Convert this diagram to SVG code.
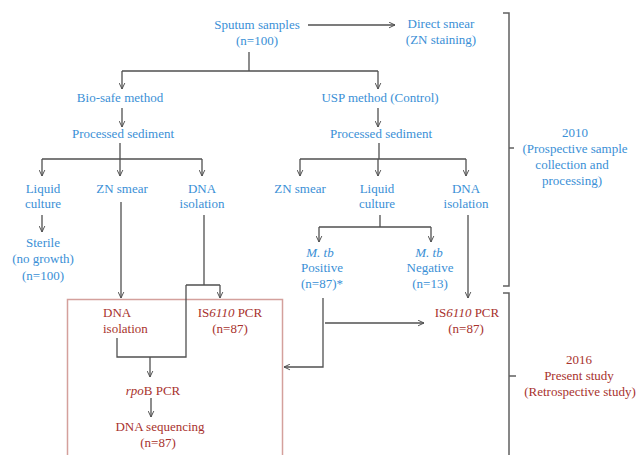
<svg xmlns="http://www.w3.org/2000/svg" width="636" height="455" viewBox="0 0 636 455">
<style>
text{font-family:'Liberation Serif','DejaVu Serif',serif;font-size:13px;text-anchor:middle}
.b{fill:#3a8fd6}
.r{fill:#a8322d}
.l{text-anchor:start}
.i{font-style:italic}
.c{fill:none;stroke:#505050;stroke-width:1.3}
.a{marker-end:url(#arr)}
.br{fill:none;stroke:#606060;stroke-width:1.5}
</style>
<defs>
<marker id="arr" viewBox="0 0 10 10" refX="9.5" refY="5" markerWidth="7" markerHeight="7" markerUnits="userSpaceOnUse" orient="auto">
<path d="M1,1 L9.5,5 L1,9" fill="none" stroke="#505050" stroke-width="1.4"/>
</marker>
</defs>
<rect x="67.5" y="299.5" width="215" height="200" fill="none" stroke="#d4a09c" stroke-width="1.5"/>
<g id="connectors">
<path class="c a" d="M308,25 H395"/>
<path class="c" d="M249,52 V71 M122,71 H378"/>
<path class="c a" d="M122,71 V89"/>
<path class="c a" d="M378,71 V89"/>
<path class="c a" d="M122,108 V127"/>
<path class="c a" d="M378,108 V127"/>
<path class="c" d="M120,143 V159 M42,159 H202"/>
<path class="c a" d="M42,159 V176"/>
<path class="c a" d="M120,159 V176"/>
<path class="c a" d="M202,159 V176"/>
<path class="c" d="M379,143 V159 M300,159 H466"/>
<path class="c a" d="M300,159 V176"/>
<path class="c a" d="M378,159 V176"/>
<path class="c a" d="M466,159 V176"/>
<path class="c a" d="M42,215 V232"/>
<path class="c a" d="M121,202 V298"/>
<path class="c" d="M204,215 V285 M186,285 H220"/>
<path class="c a" d="M220,285 V298"/>
<path class="c" d="M117,338 V357 H186 V285"/>
<path class="c a" d="M150,357 V377"/>
<path class="c a" d="M151,398 V417"/>
<path class="c" d="M380,215 V227 M319,227 H431"/>
<path class="c a" d="M319,227 V242"/>
<path class="c a" d="M431,227 V242"/>
<path class="c a" d="M468,215 V298"/>
<path class="c a" d="M323,298 V367 H284"/>
<path class="c a" d="M325,323 H424"/>
<path class="br" d="M503,13 H509 V286 H503 M509,148 H514"/>
<path class="br" d="M503,293 H509 V460 M509,376 H516"/>
</g>
<g id="sputum"><text class="b" x="257" y="29">Sputum samples</text><text class="b" x="257" y="45">(n=100)</text></g>
<g id="direct-smear"><text class="b" x="441" y="28">Direct smear</text><text class="b" x="441" y="44">(ZN staining)</text></g>
<g id="biosafe"><text class="b" x="120" y="102">Bio-safe method</text></g>
<g id="usp"><text class="b" x="380" y="102">USP method (Control)</text></g>
<g id="sediment-left"><text class="b" x="123" y="138">Processed sediment</text></g>
<g id="sediment-right"><text class="b" x="381" y="138">Processed sediment</text></g>
<g id="liquid-left"><text class="b" x="43" y="193">Liquid</text><text class="b" x="43" y="208">culture</text></g>
<g id="zn-left"><text class="b" x="122" y="193">ZN smear</text></g>
<g id="dna-left"><text class="b" x="202" y="193">DNA</text><text class="b" x="202" y="208">isolation</text></g>
<g id="sterile"><text class="b" x="43" y="247">Sterile</text><text class="b" x="43" y="263">(no growth)</text><text class="b" x="43" y="280">(n=100)</text></g>
<g id="zn-right"><text class="b" x="300" y="193">ZN smear</text></g>
<g id="liquid-right"><text class="b" x="377" y="193">Liquid</text><text class="b" x="377" y="208">culture</text></g>
<g id="dna-right"><text class="b" x="466" y="193">DNA</text><text class="b" x="466" y="208">isolation</text></g>
<g id="positive"><text class="b i" x="320" y="257">M. tb</text><text class="b" x="322" y="272">Positive</text><text class="b" x="322" y="288">(n=87)*</text></g>
<g id="negative"><text class="b i" x="429" y="257">M. tb</text><text class="b" x="430" y="272">Negative</text><text class="b" x="430" y="288">(n=13)</text></g>
<g id="dna-box"><text class="r l" x="103" y="317">DNA</text><text class="r l" x="103" y="333">isolation</text></g>
<g id="is6110-box"><text class="r" x="230" y="317">IS<tspan class="i">6110</tspan> PCR</text><text class="r" x="230" y="333">(n=87)</text></g>
<g id="rpob"><text class="r" x="153" y="395"><tspan class="i">rpo</tspan>B PCR</text></g>
<g id="sequencing"><text class="r" x="160" y="431">DNA sequencing</text><text class="r" x="158" y="447">(n=87)</text></g>
<g id="is6110-right"><text class="r" x="467" y="317">IS<tspan class="i">6110</tspan> PCR</text><text class="r" x="466" y="333">(n=87)</text></g>
<g id="label-2010"><text class="b" x="575" y="137">2010</text><text class="b" x="575" y="153">(Prospective sample</text><text class="b" x="572" y="169">collection and</text><text class="b" x="572" y="185">processing)</text></g>
<g id="label-2016"><text class="r" x="579" y="364">2016</text><text class="r" x="579" y="380">Present study</text><text class="r" x="580" y="396">(Retrospective study)</text></g>
</svg>
